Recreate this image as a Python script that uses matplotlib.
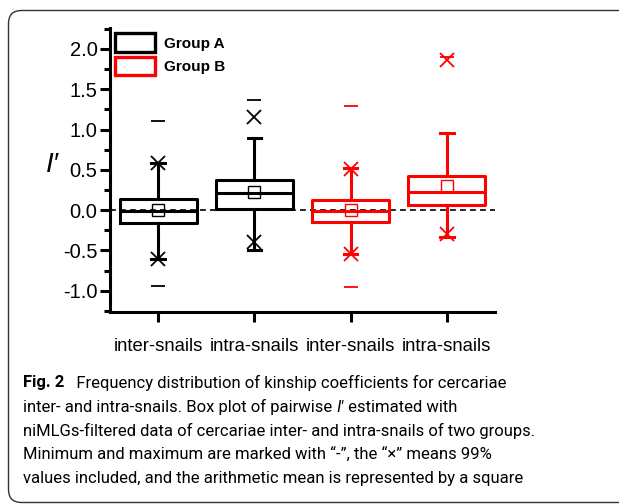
import matplotlib
matplotlib.use("Agg")
import matplotlib.pyplot as plt
from matplotlib.patches import Patch, PathPatch
from matplotlib.path import Path
from matplotlib.ticker import MultipleLocator
from matplotlib.transforms import IdentityTransform

plt.rcParams['font.family'] = ['Liberation Sans', 'DejaVu Sans']

# ---- data ----
categories = ["inter-snails", "intra-snails", "inter-snails", "intra-snails"]
groups = ["Group A", "Group A", "Group B", "Group B"]
colors = {"Group A": "black", "Group B": "#ff0000"}
q1 = [-0.16, 0.01, -0.15, 0.06]
median = [-0.01, 0.21, -0.01, 0.22]
q3 = [0.14, 0.38, 0.12, 0.42]
mean = [0.00, 0.23, 0.00, 0.30]
whisker_low = [-0.60, -0.50, -0.54, -0.33]
whisker_high = [0.58, 0.90, 0.52, 0.96]
p1 = [-0.60, -0.40, -0.55, -0.30]
p99 = [0.59, 1.15, 0.51, 1.86]
vmin = [-0.94, -0.50, -0.95, -0.33]
vmax = [1.10, 1.37, 1.29, 1.90]
yticks = [-1.0, -0.5, 0.0, 0.5, 1.0, 1.5, 2.0]

W, H = 619, 504
fig = plt.figure(figsize=(W / 100, H / 100), dpi=100)
fig.patch.set_facecolor("white")

# open rounded frame on the left (pixel coordinates, origin bottom-left)
L, T, B, R, r = 8.5, H - 10.5, 1.5, W + 5, 13
verts = [(R, T), (L + r, T), (L, T), (L, T - r), (L, B + r), (L, B), (L + r, B), (R, B)]
codes = [Path.MOVETO, Path.LINETO, Path.CURVE3, Path.CURVE3,
         Path.LINETO, Path.CURVE3, Path.CURVE3, Path.LINETO]
frame = PathPatch(Path(verts, codes), transform=IdentityTransform(), fill=False,
                  edgecolor="#333333", linewidth=1.0, clip_on=False)
fig.add_artist(frame)

ax = fig.add_axes([110 / W, 1 - 311.7 / H, 385 / W, 283.7 / H])
positions = [1, 2, 3, 4]

ax.axhline(0, color="black", linestyle=(0, (3.5, 2.5)), linewidth=1.2, zorder=1)

for i, pos in enumerate(positions):
    c = colors[groups[i]]
    stats = [dict(med=median[i], q1=q1[i], q3=q3[i], whislo=whisker_low[i],
                  whishi=whisker_high[i], mean=mean[i], fliers=[])]
    lw = 2.2
    ax.bxp(stats, positions=[pos], widths=0.8, showmeans=True, showfliers=False,
           capwidths=0.14, patch_artist=False,
           boxprops=dict(color=c, linewidth=lw),
           whiskerprops=dict(color=c, linewidth=lw),
           capprops=dict(color=c, linewidth=lw),
           medianprops=dict(color=c, linewidth=lw),
           meanprops=dict(marker="s", markerfacecolor="none", markeredgecolor=c,
                          markersize=8.5, markeredgewidth=1.0),
           manage_ticks=False, zorder=3)
    ax.plot([pos, pos], [p1[i], p99[i]], linestyle="none", marker="x",
            color=c, markersize=10, markeredgewidth=1.3, zorder=4)
    ax.plot([pos, pos], [vmin[i], vmax[i]], linestyle="none", marker="_",
            color=c, markersize=10, markeredgewidth=1.3, zorder=4)

ax.set_xlim(0.5, 4.5)
ax.set_ylim(-1.26, 2.26)
ax.set_xticks(positions)
ax.set_xticklabels(categories, fontsize=13.3)
ax.set_yticks(yticks)
ax.set_yticklabels([f"{v:.1f}" for v in yticks], fontsize=14.5)
ax.yaxis.set_minor_locator(MultipleLocator(0.25))

for s in ["top", "right"]:
    ax.spines[s].set_visible(False)
for s in ["left", "bottom"]:
    ax.spines[s].set_linewidth(2.2)
ax.tick_params(axis="y", which="major", direction="out", length=7, width=2.2, pad=2)
ax.tick_params(axis="y", which="minor", direction="out", length=4, width=2.2)
ax.tick_params(axis="x", which="major", direction="out", length=7, width=2.2, pad=12)

ax.set_ylabel("I′", rotation=0, fontsize=20, style="italic")
ax.yaxis.set_label_coords(-0.15, 0.47)

handles = [Patch(facecolor="white", edgecolor=colors["Group A"], linewidth=2.4),
           Patch(facecolor="white", edgecolor=colors["Group B"], linewidth=2.4)]
ax.legend(handles, ["Group A", "Group B"], loc="upper left", frameon=False,
          prop=dict(weight="bold", size=11), handlelength=2.6, handleheight=1.5,
          labelspacing=0.3, borderaxespad=0.25, borderpad=0.1, handletextpad=0.6)

# caption
cap_font = ["Roboto", "DejaVu Sans"]
cap_size = 12.0
ys = [383, 407, 431, 455, 479]
x0 = 23


def run(pieces, y):
    """Draw a line made of text pieces placed one after another."""
    x = x0
    for txt, kw in pieces:
        t = fig.text(x / W, 1 - y / H, txt, fontsize=cap_size, family=cap_font,
                     va="center", ha="left", **kw)
        fig.canvas.draw()
        x = t.get_window_extent().x1


run([("Fig. 2", dict(fontweight="bold")),
     ("   Frequency distribution of kinship coefficients for cercariae", {})], ys[0])
run([("inter- and intra-snails. Box plot of pairwise ", {}),
     ("I\u2032", dict(style="italic")),
     (" estimated with", {})], ys[1])
run([("niMLGs-filtered data of cercariae inter- and intra-snails of two groups.", {})], ys[2])
run([("Minimum and maximum are marked with \u201c-\u201d, the \u201c\u00d7\u201d means 99%", {})], ys[3])
run([("values included, and the arithmetic mean is represented by a square", {})], ys[4])

fig.savefig("out.png", dpi=100, facecolor="white")
